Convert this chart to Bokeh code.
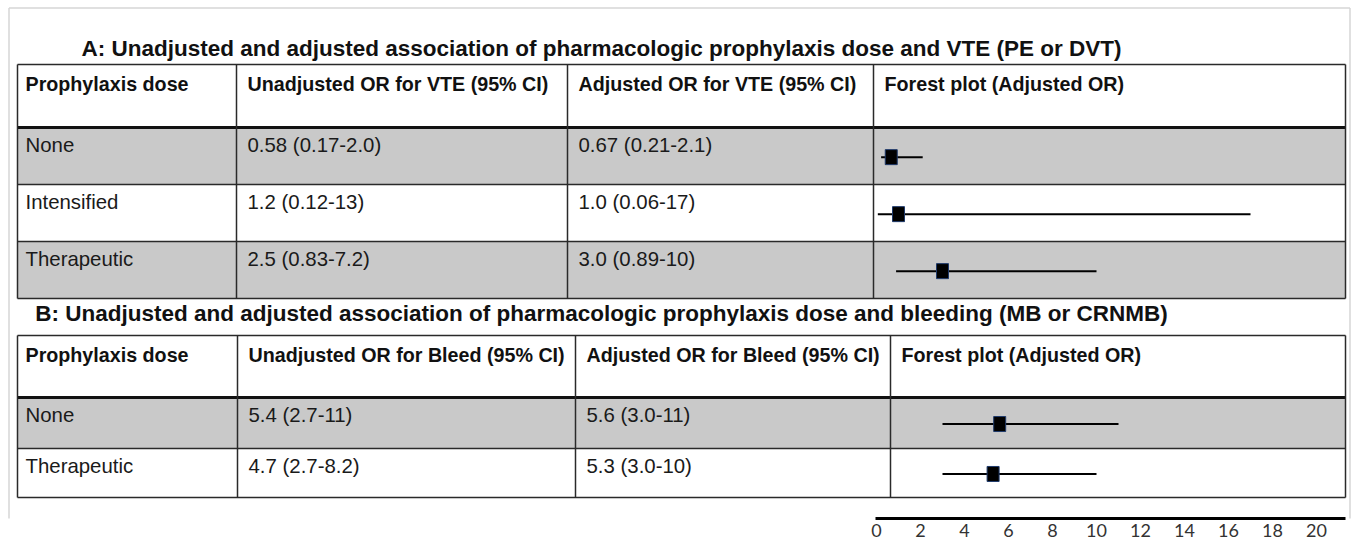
from bokeh.plotting import figure
from bokeh.models import Range1d, LinearAxis, FixedTicker, ColumnDataSource
from bokeh.core.properties import value
from bokeh.embed import file_html
from bokeh.resources import INLINE

# ---------------- data ----------------
TITLE_A = "A: Unadjusted and adjusted association of pharmacologic prophylaxis dose and VTE (PE or DVT)"
HEAD_A = ["Prophylaxis dose", "Unadjusted OR for VTE (95% CI)",
          "Adjusted OR for VTE (95% CI)", "Forest plot (Adjusted OR)"]
DOSE_A = ["None", "Intensified", "Therapeutic"]
UNADJ_A = ["0.58 (0.17-2.0)", "1.2 (0.12-13)", "2.5 (0.83-7.2)"]
ADJ_A = ["0.67 (0.21-2.1)", "1.0 (0.06-17)", "3.0 (0.89-10)"]
OR_A = [0.67, 1.0, 3.0]
LO_A = [0.21, 0.06, 0.89]
HI_A = [2.1, 17, 10]

TITLE_B = "B: Unadjusted and adjusted association of pharmacologic prophylaxis dose and bleeding (MB or CRNMB)"
HEAD_B = ["Prophylaxis dose", "Unadjusted OR for Bleed (95% CI)",
          "Adjusted OR for Bleed (95% CI)", "Forest plot (Adjusted OR)"]
DOSE_B = ["None", "Therapeutic"]
UNADJ_B = ["5.4 (2.7-11)", "4.7 (2.7-8.2)"]
ADJ_B = ["5.6 (3.0-11)", "5.3 (3.0-10)"]
OR_B = [5.6, 5.3]
LO_B = [3.0, 3.0]
HI_B = [11, 10]

AXIS_TICKS = [0, 2, 4, 6, 8, 10, 12, 14, 16, 18, 20]

# ---------------- layout (page pixels) ----------------
W, H = 1352, 552
PX0, PY0 = 0, 0
FRAME_BOTTOM = 518
X0_OR = 876.0      # page x of OR = 0
K_OR = 22.0        # pixels per OR unit

COLS_A = [17, 236, 567, 873, 1345]
COLS_B = [17, 237, 575, 890, 1345]
EDGES_A = [64, 127, 184, 241, 298]
EDGES_B = [335, 397, 448, 497]
GRAY_A = [True, False, True]
GRAY_B = [True, False]
TITLE_CX = 601
TITLE_Y = [48, 313]

FONT = value("Liberation Sans")
GRAY = "#c9c9c9"
LINE = "#2a2a2a"

p = figure(width=W, height=H, output_backend="svg", toolbar_location=None,
           x_range=Range1d(PX0, PX0 + W), y_range=Range1d(FRAME_BOTTOM, PY0),
           x_axis_type=None, y_axis_type=None,
           min_border_left=0, min_border_right=0, min_border_top=0,
           min_border_bottom=H - (FRAME_BOTTOM - PY0))
p.outline_line_color = None
p.background_fill_color = "white"
p.border_fill_color = "white"
p.extra_x_ranges = {"or": Range1d((PX0 - X0_OR) / K_OR, (PX0 + W - X0_OR) / K_OR)}

# outer light frame
p.segment(x0=[8.5, 8.5, 1349.5], y0=[7.5, 7.5, 7.5],
          x1=[8.5, 1349.5, 1349.5], y1=[600, 7.5, 600],
          line_color="#d6d6d6", line_width=1.5)


def draw_table(title, ty, heads, dose, unadj, adj, orv, lo, hi, cols, edges, gray):
    nrow = len(dose)
    gl, gr, gt, gb = [], [], [], []
    for i in range(nrow):
        if gray[i]:
            gl.append(cols[0]); gr.append(cols[-1])
            gt.append(edges[i + 1]); gb.append(edges[i + 2])
    p.quad(left=gl, right=gr, top=gt, bottom=gb, fill_color=GRAY, line_color=None)

    p.text(x=[TITLE_CX], y=[ty], text=[title], text_font=FONT, text_font_style="bold",
           text_font_size="22.5px", text_align="center", text_baseline="middle",
           text_color="#111111")

    hy = [edges[0]] + edges[2:]
    p.segment(x0=[cols[0]] * len(hy), x1=[cols[-1]] * len(hy), y0=hy, y1=hy,
              line_color=LINE, line_width=1.5)
    p.segment(x0=[cols[0]], x1=[cols[-1]], y0=[edges[1]], y1=[edges[1]],
              line_color="#111111", line_width=3.2)
    p.segment(x0=cols, x1=cols, y0=[edges[0]] * len(cols), y1=[edges[-1]] * len(cols),
              line_color=LINE, line_width=1.5)

    hx = [cols[0] + 8] + [c + 11 for c in cols[1:4]]
    p.text(x=hx, y=[edges[0] + 19] * 4, text=heads, text_font=FONT, text_font_style="bold",
           text_font_size="19.7px", text_align="left", text_baseline="middle",
           text_color="#111111")

    tx, ty_, tt = [], [], []
    for i in range(nrow):
        top = edges[i + 1]
        for j, s in enumerate([dose[i], unadj[i], adj[i]]):
            tx.append(cols[j] + (8 if j == 0 else 11))
            ty_.append(top + 17)
            tt.append(s)
    p.text(x=tx, y=ty_, text=tt, text_font=FONT, text_font_size="20.4px",
           text_align="left", text_baseline="middle", text_color="#1a1a1a")

    my = [edges[i + 1] + 0.52 * (edges[i + 2] - edges[i + 1]) for i in range(nrow)]
    src = ColumnDataSource(dict(orv=orv, lo=lo, hi=hi, y=my))
    p.segment(x0="lo", x1="hi", y0="y", y1="y", source=src, x_range_name="or",
              line_color="black", line_width=2)
    p.rect(x="orv", y="y", width=12, height=15, width_units="screen",
           height_units="screen", source=src, x_range_name="or",
           fill_color="black", line_color="#1f3a6b", line_width=1)


draw_table(TITLE_A, TITLE_Y[0], HEAD_A, DOSE_A, UNADJ_A, ADJ_A, OR_A, LO_A, HI_A,
           COLS_A, EDGES_A, GRAY_A)
draw_table(TITLE_B, TITLE_Y[1], HEAD_B, DOSE_B, UNADJ_B, ADJ_B, OR_B, LO_B, HI_B,
           COLS_B, EDGES_B, GRAY_B)

ax = LinearAxis(x_range_name="or", ticker=FixedTicker(ticks=AXIS_TICKS),
                bounds=(-0.05, 21.3))
ax.axis_line_width = 3
ax.axis_line_color = "black"
ax.major_tick_line_color = None
ax.minor_tick_line_color = None
ax.major_tick_out = 0
ax.major_tick_in = 0
ax.major_label_standoff = 5
ax.major_label_text_font = "Lato"
ax.major_label_text_font_size = "18px"
ax.major_label_text_color = "#333333"
p.add_layout(ax, "below")

open("out.html", "w").write(file_html(p, INLINE))
